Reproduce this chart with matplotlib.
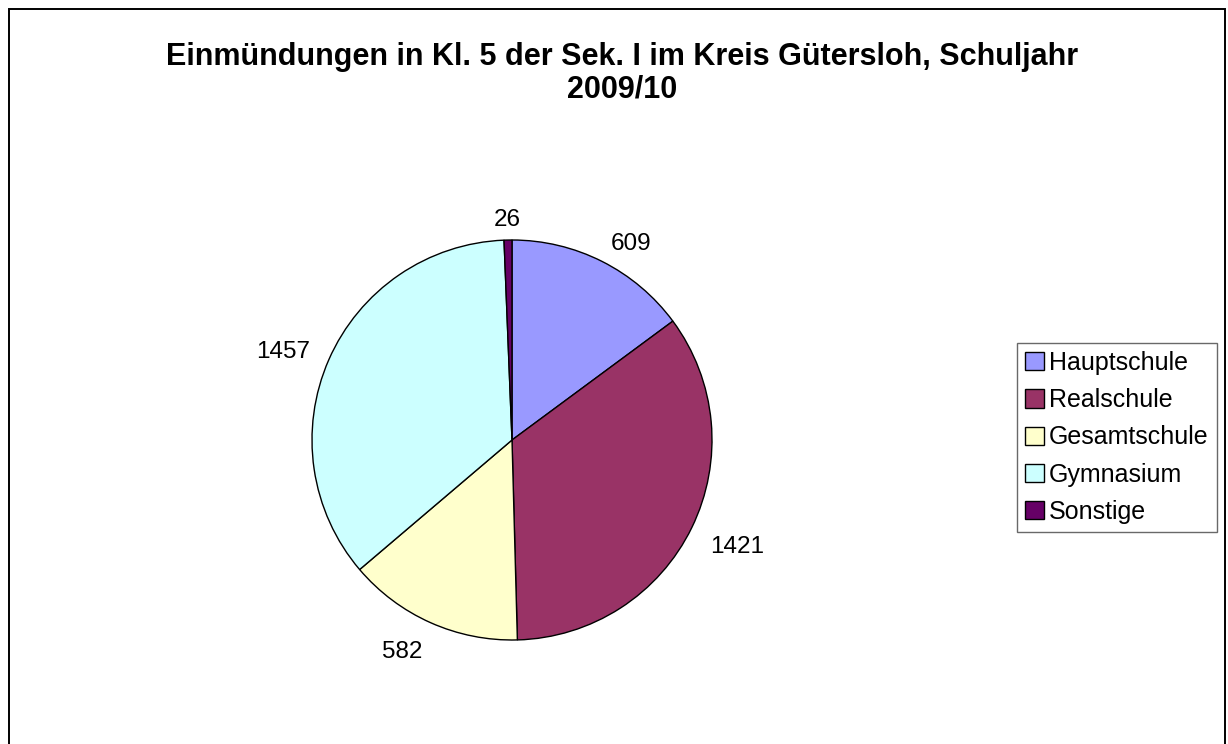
import numpy as np
import matplotlib.pyplot as plt
from matplotlib.patches import Rectangle

plt.rcParams['font.family'] = ['Liberation Sans', 'DejaVu Sans']

schulformen = ['Hauptschule', 'Realschule', 'Gesamtschule', 'Gymnasium', 'Sonstige']
anzahl = [609, 1421, 582, 1457, 26]
farben = ['#9999FF', '#993366', '#FFFFCC', '#CCFFFF', '#660066']

W, H = 1228, 744
fig = plt.figure(figsize=(W / 100, H / 100), dpi=100)

# outer chart frame (bottom edge runs off the image)
fig.patches.append(Rectangle((8.5 / W, -0.02), (1225 - 8.5) / W, (744 - 9) / H + 0.02,
                             transform=fig.transFigure, fill=False,
                             edgecolor='black', linewidth=1.4))

fig.text(622 / W, 1 - 73 / H, 'Einmündungen in Kl. 5 der Sek. I im Kreis Gütersloh, Schuljahr\n2009/10',
         ha='center', va='center', fontsize=22, fontweight='bold', linespacing=1.12)

ax = fig.add_axes([312 / W, 1 - 640 / H, 400 / W, 400 / H])
wedges, texts = ax.pie(anzahl, labels=[str(v) for v in anzahl], colors=farben,
                       startangle=90, counterclock=False, labeldistance=1.1,
                       wedgeprops=dict(edgecolor='black', linewidth=1.0),
                       textprops=dict(fontsize=17.5))
# Excel-like label placement: text box sits outside the pie edge
for w, t in zip(wedges, texts):
    ang = np.deg2rad((w.theta1 + w.theta2) / 2)
    c, s = np.cos(ang), np.sin(ang)
    t.set_ha('left' if c > 0.3 else ('right' if c < -0.3 else 'center'))
    t.set_va('top' if s < -0.3 else 'center')
ax.set_xlim(-1, 1)
ax.set_ylim(-1, 1)
ax.set_aspect('equal')

leg = fig.legend(wedges, schulformen, loc='center', bbox_to_anchor=(1117 / W, 1 - 437.5 / H),
                 fontsize=18, frameon=True, fancybox=False, handlelength=0.75,
                 handleheight=0.75, handletextpad=0.2, labelspacing=0.53,
                 borderpad=0.33, borderaxespad=0)
leg.get_frame().set_edgecolor('#444444')
leg.get_frame().set_linewidth(1.0)

fig.savefig('out.png', dpi=100)
